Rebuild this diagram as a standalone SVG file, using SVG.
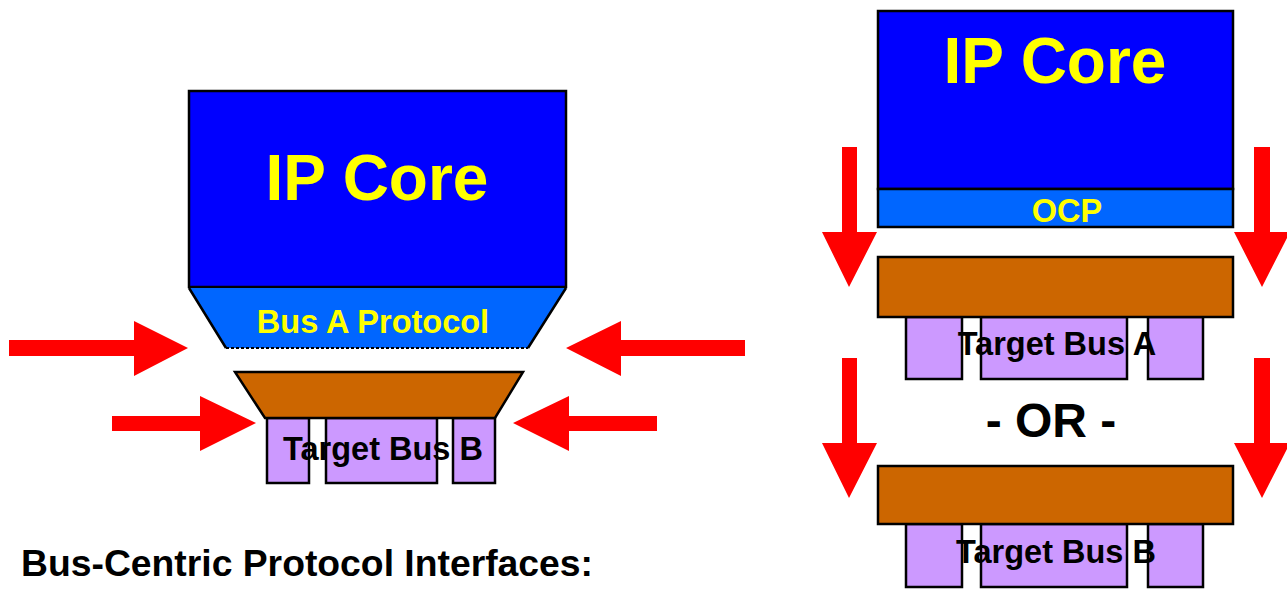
<svg xmlns="http://www.w3.org/2000/svg" width="1287" height="589" viewBox="0 0 1287 589">
  <style>
    text { font-family: "Liberation Sans", Arial, sans-serif; font-weight: bold; }
    .core { fill: #0000FF; stroke: #000; stroke-width: 2.5; }
    .proto { fill: #0066FF; stroke: #000; stroke-width: 2.5; }
    .bus { fill: #CC6600; stroke: #000; stroke-width: 2.5; }
    .pin { fill: #CC99FF; stroke: #000; stroke-width: 2.5; }
    .arrow { fill: #FF0000; }
    .yl { fill: #FFFF00; text-anchor: middle; }
    .bk { fill: #000; text-anchor: middle; }
    .lbl { font-size: 32.5px; }
  </style>

  <!-- Left: bus-centric interface -->
  <g id="left-ip-core">
    <rect class="core" x="189" y="91" width="377" height="196"/>
    <text class="yl" x="377" y="200" font-size="64">IP Core</text>
  </g>
  <g id="left-bus-a-protocol">
    <polygon fill="#0066FF" points="189,288 566,288 528,348 226,348"/>
    <path d="M189,288 L226,348 M566,288 L528,348" stroke="#000" stroke-width="2.5" fill="none"/>
    <path d="M226,348 L528,348" stroke="#000" stroke-width="2" stroke-dasharray="3,2" fill="none"/>
    <text class="yl lbl" x="373" y="333">Bus A Protocol</text>
  </g>
  <g id="left-target-bus-b">
    <rect class="pin" x="267" y="418" width="42" height="65"/>
    <rect class="pin" x="326" y="418" width="111" height="65"/>
    <rect class="pin" x="453" y="418" width="42" height="65"/>
    <polygon class="bus" points="235,372 523,372 495,418 265,418"/>
    <text class="bk lbl" x="383" y="460">Target Bus B</text>
  </g>

  <!-- Right: OCP interface -->
  <g id="right-ip-core">
    <rect class="core" x="878" y="11" width="355" height="178"/>
    <text class="yl" x="1055" y="83" font-size="64">IP Core</text>
  </g>
  <g id="right-ocp">
    <rect class="proto" x="878" y="189" width="355" height="38"/>
    <text class="yl lbl" x="1067" y="222">OCP</text>
  </g>
  <g id="right-target-bus-a">
    <rect class="pin" x="906" y="317" width="56" height="62"/>
    <rect class="pin" x="981" y="317" width="146" height="62"/>
    <rect class="pin" x="1148" y="317" width="55" height="62"/>
    <rect class="bus" x="878" y="257" width="355" height="60"/>
    <text class="bk lbl" x="1057" y="355">Target Bus A</text>
  </g>
  <g id="or-label">
    <text class="bk" x="1051" y="437" font-size="48">- OR -</text>
  </g>
  <g id="right-target-bus-b">
    <rect class="pin" x="906" y="524" width="56" height="63"/>
    <rect class="pin" x="981" y="524" width="146" height="63"/>
    <rect class="pin" x="1148" y="524" width="55" height="63"/>
    <rect class="bus" x="878" y="466" width="355" height="58"/>
    <text class="bk lbl" x="1056" y="563">Target Bus B</text>
  </g>

  <g id="caption">
    <text x="21" y="576" font-size="37.3" fill="#000">Bus-Centric Protocol Interfaces:</text>
  </g>

  <!-- Block arrows -->
  <g id="connectors">
    <polygon class="arrow" points="9,340 134,340 134,321 188,348 134,376 134,356 9,356"/>
    <polygon class="arrow" points="112,416 200,416 200,396 256,423 200,451 200,431 112,431"/>
    <polygon class="arrow" points="745,340 621,340 621,321 566,348 621,376 621,356 745,356"/>
    <polygon class="arrow" points="657,416 569,416 569,396 513,423 569,451 569,431 657,431"/>
    <polygon class="arrow" points="842,147 857,147 857,232 877,232 849,287 822,232 842,232"/>
    <polygon class="arrow" points="1254,147 1270,147 1270,232 1290,232 1262,287 1234,232 1254,232"/>
    <polygon class="arrow" points="842,358 857,358 857,443 877,443 849,498 822,443 842,443"/>
    <polygon class="arrow" points="1254,358 1270,358 1270,443 1290,443 1262,498 1234,443 1254,443"/>
  </g>
</svg>
